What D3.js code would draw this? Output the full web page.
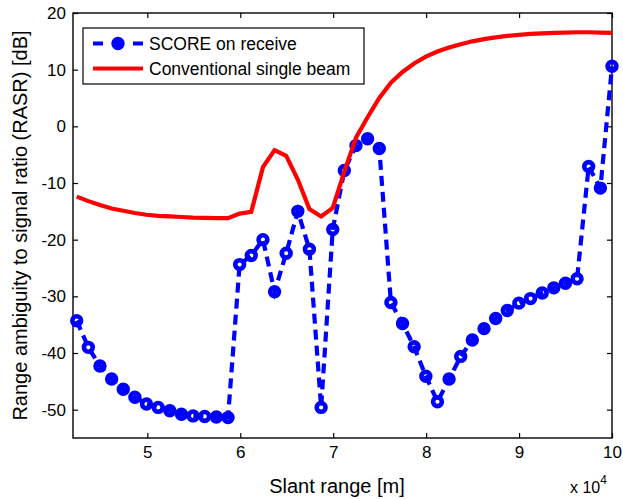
<!DOCTYPE html>
<html>
<head>
<meta charset="utf-8">
<script src="https://cdn.jsdelivr.net/npm/d3@7"></script>
<style>
  body { margin: 0; background: #fff; }
  svg { display: block; font-family: "Liberation Sans", Arial, Helvetica, sans-serif; }
</style>
</head>
<body>
<svg id="chart" width="623" height="499"></svg>
<script>
// Slant range in units of 1e4 m
const slantRange = [4.24, 4.365, 4.49, 4.616, 4.741, 4.866, 4.991, 5.117, 5.242, 5.367,
  5.492, 5.617, 5.743, 5.868, 5.993, 6.118, 6.244, 6.369, 6.494, 6.619,
  6.744, 6.87, 6.995, 7.12, 7.245, 7.37, 7.496, 7.621, 7.746, 7.871,
  7.997, 8.122, 8.247, 8.372, 8.497, 8.623, 8.748, 8.873, 8.998, 9.123,
  9.249, 9.374, 9.499, 9.624, 9.749, 9.875, 10.0];

const scoreRASR = [-34.3, -39.0, -42.3, -44.6, -46.4, -47.8, -49.0, -49.6, -50.2, -50.8,
  -51.1, -51.2, -51.3, -51.4, -24.4, -22.8, -20.0, -29.2, -22.4, -15.0,
  -21.7, -49.6, -18.2, -7.8, -3.4, -2.2, -3.9, -31.1, -34.8, -38.9,
  -44.1, -48.6, -44.6, -40.6, -37.7, -35.7, -33.9, -32.5, -31.2, -30.4,
  -29.4, -28.5, -27.7, -26.9, -7.1, -10.9, 10.6];

const conventionalRASR = [-12.4, -13.2, -13.9, -14.5, -14.9, -15.3, -15.6, -15.8, -15.9, -16.0,
  -16.1, -16.15, -16.2, -16.2, -15.4, -15.1, -7.2, -4.2, -5.2, -9.4,
  -14.6, -15.9, -14.4, -8.0, -2.0, 1.6, 5.0, 7.7, 9.6, 11.1,
  12.3, 13.2, 13.9, 14.5, 15.0, 15.4, 15.7, 15.95, 16.15, 16.3,
  16.4, 16.5, 16.55, 16.6, 16.6, 16.55, 16.5];

const xTicks = [5, 6, 7, 8, 9, 10];
const yTicks = [20, 10, 0, -10, -20, -30, -40, -50];
const seriesNames = ["SCORE on receive", "Conventional single beam"];
const xLabel = "Slant range [m]";
const yLabel = "Range ambiguity to signal ratio (RASR) [dB]";

const BLUE = "#0000ff", RED = "#ff0000";
const W = 623, H = 499;
const m = { left: 73, right: 11, top: 13, bottom: 61 };
const pw = W - m.left - m.right, ph = H - m.top - m.bottom;

const svg = d3.select("#chart");
const x = d3.scaleLinear().domain([4.2, 10]).range([m.left, m.left + pw]);
const y = d3.scaleLinear().domain([-55, 20]).range([m.top + ph, m.top]);

const fmt = d => (d < 0 ? "-" + Math.abs(d) : String(d));

// axes (inward ticks)
const gx = svg.append("g").attr("transform", `translate(0,${m.top + ph})`)
  .call(d3.axisBottom(x).tickValues(xTicks).tickFormat(fmt).tickSizeInner(-5).tickSizeOuter(0).tickPadding(8));
const gxt = svg.append("g").attr("transform", `translate(0,${m.top})`)
  .call(d3.axisTop(x).tickValues(xTicks).tickFormat("").tickSizeInner(-5).tickSizeOuter(0));
const gy = svg.append("g").attr("transform", `translate(${m.left},0)`)
  .call(d3.axisLeft(y).tickValues(yTicks).tickFormat(fmt).tickSizeInner(-5).tickSizeOuter(0).tickPadding(7));
const gyr = svg.append("g").attr("transform", `translate(${m.left + pw},0)`)
  .call(d3.axisRight(y).tickValues(yTicks).tickFormat("").tickSizeInner(-5).tickSizeOuter(0));
[gx, gxt, gy, gyr].forEach(g => {
  g.select(".domain").remove();
  g.selectAll("line").attr("stroke", "#000").attr("stroke-width", 1.2);
  g.selectAll("text").attr("font-size", 17).attr("fill", "#000")
    .style("font-family", '"Liberation Sans", Arial, sans-serif');
});

// frame
svg.append("rect").attr("x", m.left).attr("y", m.top).attr("width", pw).attr("height", ph)
  .attr("fill", "none").attr("stroke", "#000").attr("stroke-width", 1.4);

const data = slantRange.map((s, i) => ({ s, b: scoreRASR[i], r: conventionalRASR[i] }));

// SCORE series: open thick circles under dashed line
const plot = svg.append("g");
plot.selectAll("circle.m").data(data).join("circle")
  .attr("class", "m")
  .attr("cx", d => x(d.s)).attr("cy", d => y(d.b)).attr("r", 4.4)
  .attr("fill", "none").attr("stroke", BLUE).attr("stroke-width", 4.6);
plot.append("path").datum(data)
  .attr("d", d3.line().x(d => x(d.s)).y(d => y(d.b)))
  .attr("fill", "none").attr("stroke", BLUE).attr("stroke-width", 4.2)
  .attr("stroke-dasharray", "10,6");

// Conventional line
plot.append("path").datum(data)
  .attr("d", d3.line().x(d => x(d.s)).y(d => y(d.r)))
  .attr("fill", "none").attr("stroke", RED).attr("stroke-width", 4.2)
  .attr("stroke-linejoin", "miter");

// legend
const lg = svg.append("g");
lg.append("rect").attr("x", 83).attr("y", 28).attr("width", 281).attr("height", 56)
  .attr("fill", "#fff").attr("stroke", "#000").attr("stroke-width", 1.2);
lg.append("line").attr("x1", 93).attr("x2", 143).attr("y1", 43.5).attr("y2", 43.5)
  .attr("stroke", BLUE).attr("stroke-width", 4.2).attr("stroke-dasharray", "10,15,0,15,10");
lg.append("circle").attr("cx", 118).attr("cy", 43.5).attr("r", 4.4)
  .attr("fill", BLUE).attr("stroke", BLUE).attr("stroke-width", 4.6);
lg.append("line").attr("x1", 93).attr("x2", 143).attr("y1", 68.5).attr("y2", 68.5)
  .attr("stroke", RED).attr("stroke-width", 4.2);
lg.selectAll("text.lt").data(seriesNames).join("text")
  .attr("class", "lt")
  .attr("x", 149).attr("y", (d, i) => 49.5 + i * 25)
  .attr("font-size", 17.5).attr("fill", "#000").text(d => d);

// axis titles
svg.append("text").attr("x", 337).attr("y", 493).attr("text-anchor", "middle")
  .attr("font-size", 20).attr("fill", "#000").text(xLabel);
svg.append("text").attr("transform", `translate(27,${m.top + ph / 2}) rotate(-90)`)
  .attr("text-anchor", "middle").attr("font-size", 20).attr("fill", "#000").text(yLabel);

// exponent label
const ex = svg.append("text").attr("x", 570).attr("y", 493).attr("font-size", 16).attr("fill", "#000");
ex.append("tspan").text("x 10");
ex.append("tspan").attr("dy", -9).attr("font-size", 12).text("4");
</script>
</body>
</html>
